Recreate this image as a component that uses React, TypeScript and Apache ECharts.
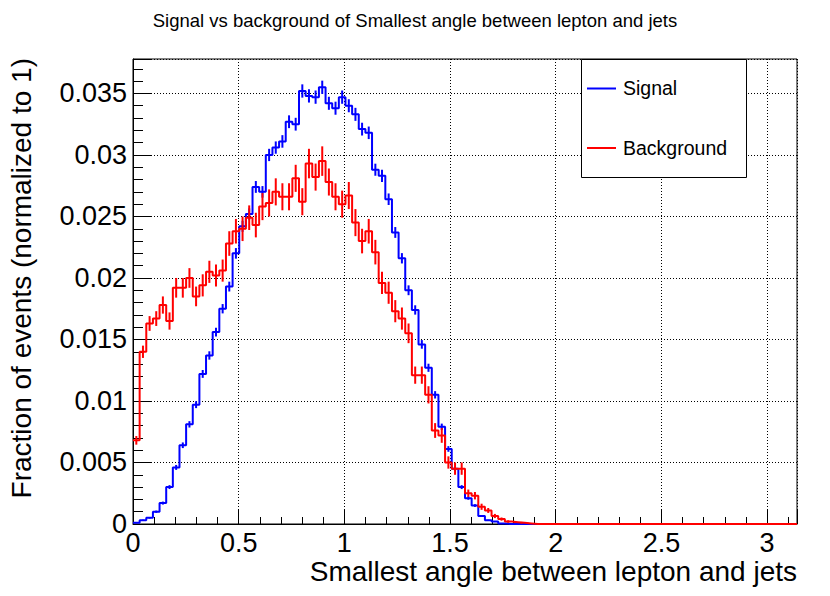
import React, { useEffect, useRef } from "react";
import * as echarts from "echarts";

const X_MAX = Math.PI;
const Y_MAX = 0.0378;

const signal = [
  0.0001, 0.0003, 0.0005, 0.0010, 0.0017, 0.0030, 0.0046, 0.0064, 0.0081, 0.0097,
  0.0122, 0.0137, 0.0156, 0.0175, 0.0193, 0.0220, 0.0242, 0.0252, 0.0274, 0.0270,
  0.0300, 0.0306, 0.0311, 0.0327, 0.0325, 0.0352, 0.0348, 0.0347, 0.0355, 0.0342,
  0.0338, 0.0347, 0.0340, 0.0333, 0.0321, 0.0318, 0.0288, 0.0283, 0.0264, 0.0237,
  0.0216, 0.0190, 0.0174, 0.0146, 0.0127, 0.0105, 0.0079, 0.0061, 0.0045, 0.0030,
  0.0021, 0.0015, 0.00065, 0.0003, 0.0002, 0.00005, 0, 0, 0, 0,
  0, 0, 0, 0, 0, 0, 0, 0, 0, 0,
  0, 0, 0, 0, 0, 0, 0, 0, 0, 0,
  0, 0, 0, 0, 0, 0, 0, 0, 0, 0,
  0, 0, 0, 0, 0, 0, 0, 0, 0, 0,
];

const signalErr = [
  0.00003, 0.00005, 0.00006, 0.00009, 0.00012, 0.00016, 0.0002, 0.00023, 0.00026, 0.00028,
  0.00032, 0.00034, 0.00036, 0.00038, 0.0004, 0.00043, 0.00045, 0.00046, 0.00048, 0.00047,
  0.0005, 0.0005, 0.00051, 0.00052, 0.00052, 0.00054, 0.00054, 0.00054, 0.00054, 0.00053,
  0.00053, 0.00054, 0.00053, 0.00053, 0.00052, 0.00051, 0.00049, 0.00049, 0.00047, 0.00044,
  0.00042, 0.0004, 0.00038, 0.00035, 0.00033, 0.0003, 0.00026, 0.00023, 0.00019, 0.00016,
  0.00013, 0.00011, 0.00007, 0.00005, 0.00004, 0.00002, 0, 0, 0, 0,
  0, 0, 0, 0, 0, 0, 0, 0, 0, 0,
  0, 0, 0, 0, 0, 0, 0, 0, 0, 0,
  0, 0, 0, 0, 0, 0, 0, 0, 0, 0,
  0, 0, 0, 0, 0, 0, 0, 0, 0, 0,
];

const background = [
  0.0068, 0.0140, 0.0163, 0.0167, 0.0178, 0.0165, 0.0192, 0.0192, 0.0200, 0.0185,
  0.0194, 0.0205, 0.0202, 0.0206, 0.0228, 0.0238, 0.0240, 0.0249, 0.0243, 0.0258,
  0.0261, 0.0270, 0.0266, 0.0266, 0.0281, 0.0262, 0.0293, 0.0282, 0.0295, 0.0278,
  0.0266, 0.0260, 0.0267, 0.0245, 0.0230, 0.0238, 0.0221, 0.0196, 0.0188, 0.0173,
  0.0167, 0.0155, 0.0121, 0.0121, 0.0105, 0.0076, 0.0072, 0.0050, 0.0045, 0.0045,
  0.0025, 0.0023, 0.0014, 0.0011, 0.00065, 0.0004, 0.0002, 0.00015, 0.0001, 0.00005,
  0, 0, 0, 0, 0, 0, 0, 0, 0, 0,
  0, 0, 0, 0, 0, 0, 0, 0, 0, 0,
  0, 0, 0, 0, 0, 0, 0, 0, 0, 0,
  0, 0, 0, 0, 0, 0, 0, 0, 0, 0,
];

const backgroundErr = [
  0.00035, 0.0005, 0.0006, 0.0006, 0.0007, 0.0007, 0.0008, 0.0008, 0.0008, 0.0008,
  0.0009, 0.0009, 0.0009, 0.0009, 0.001, 0.001, 0.001, 0.001, 0.001, 0.0011,
  0.0011, 0.0011, 0.0011, 0.0011, 0.0011, 0.0011, 0.0012, 0.0011, 0.0012, 0.0011,
  0.0011, 0.0011, 0.0011, 0.0011, 0.001, 0.001, 0.001, 0.0009, 0.0009, 0.0009,
  0.0009, 0.0008, 0.0007, 0.0007, 0.0007, 0.0006, 0.0006, 0.0005, 0.0005, 0.0005,
  0.0003, 0.0003, 0.00025, 0.0002, 0.00017, 0.00013, 0.0001, 0.00008, 0.00007, 0.00005,
  0, 0, 0, 0, 0, 0, 0, 0, 0, 0,
  0, 0, 0, 0, 0, 0, 0, 0, 0, 0,
  0, 0, 0, 0, 0, 0, 0, 0, 0, 0,
  0, 0, 0, 0, 0, 0, 0, 0, 0, 0,
];

const X_MAJOR = 0.5;
const X_MINOR = 0.1;
const Y_MAJOR = 0.005;
const Y_MINOR = 0.001;

const TITLE = "Signal vs background of Smallest angle between lepton and jets";
const X_TITLE = "Smallest angle between lepton and jets";
const Y_TITLE = "Fraction of events (normalized to 1)";
const LEGEND = ["Signal", "Background"];

const BLUE = "#0000ff";
const RED = "#ff0000";
const FONT = "Liberation Sans, Arial, Helvetica, sans-serif";

function stepPoints(vals: number[]) {
  const w = X_MAX / vals.length;
  const pts: number[][] = [];
  vals.forEach((v, i) => {
    pts.push([i * w, v]);
    pts.push([(i + 1) * w, v]);
  });
  return pts;
}

function errPoints(vals: number[], errs: number[]) {
  const w = X_MAX / vals.length;
  return vals.map((v, i) => [(i + 0.5) * w, v, errs[i]]);
}

function onStep(v: number, step: number) {
  const k = v / step;
  return Math.abs(k - Math.round(k)) < 1e-6;
}

function errSeries(name: string, vals: number[], errs: number[], color: string, z: number) {
  return {
    name,
    type: "custom",
    z,
    xAxisIndex: 0,
    yAxisIndex: 0,
    encode: { x: 0, y: 1 },
    data: errPoints(vals, errs),
    clip: true,
    renderItem: (params: any, api: any) => {
      const x = api.value(0);
      const y = api.value(1);
      const e = api.value(2);
      if (!(e > 0)) return null;
      const p1 = api.coord([x, y - e]);
      const p2 = api.coord([x, y + e]);
      return {
        type: "line",
        shape: { x1: p1[0], y1: p1[1], x2: p2[0], y2: p2[1] },
        style: { stroke: color, lineWidth: 2 },
      };
    },
  };
}

export default function App() {
  const ref = useRef<HTMLDivElement>(null);

  useEffect(() => {
    if (!ref.current) return;
    const chart = echarts.init(ref.current, undefined, { renderer: "svg" });
    const gridDash = { color: "#000", width: 1, type: [1, 2] as any };

    chart.setOption({
      animation: false,
      backgroundColor: "#fff",
      grid: {
        left: 133,
        top: 59,
        right: 33,
        bottom: 72,
        show: true,
        borderColor: "#000",
        borderWidth: 1,
        backgroundColor: "#fff",
      },
      xAxis: [
        {
          type: "value",
          min: 0,
          max: X_MAX,
          interval: X_MAJOR,
          position: "bottom",
          axisLine: { show: true, onZero: false, lineStyle: { color: "#000", width: 1 } },
          axisTick: { show: true, inside: true, length: 14, lineStyle: { color: "#000", width: 1 } },
          axisLabel: {
            show: true,
            margin: 8,
            color: "#000",
            fontSize: 27,
            lineHeight: 21,
            fontFamily: FONT,
            formatter: (v: number) => (onStep(v, X_MAJOR) ? String(+v.toFixed(1)) : ""),
          },
          splitLine: { show: true, lineStyle: gridDash },
        },
        {
          type: "value",
          min: 0,
          max: X_MAX,
          interval: X_MINOR,
          position: "bottom",
          axisLine: { show: false, onZero: false },
          axisTick: { show: true, inside: true, length: 7, lineStyle: { color: "#000", width: 1 } },
          axisLabel: { show: false },
          splitLine: { show: false },
        },
      ],
      yAxis: [
        {
          type: "value",
          min: 0,
          max: Y_MAX,
          interval: Y_MAJOR,
          position: "left",
          axisLine: { show: true, onZero: false, lineStyle: { color: "#000", width: 1 } },
          axisTick: { show: true, inside: true, length: 19, lineStyle: { color: "#000", width: 1 } },
          axisLabel: {
            show: true,
            margin: 6,
            color: "#000",
            fontSize: 27,
            lineHeight: 21,
            fontFamily: FONT,
            formatter: (v: number) => (onStep(v, Y_MAJOR) ? String(+v.toFixed(3)) : ""),
          },
          splitLine: { show: true, lineStyle: gridDash },
        },
        {
          type: "value",
          min: 0,
          max: Y_MAX,
          interval: Y_MINOR,
          position: "left",
          axisLine: { show: false, onZero: false },
          axisTick: { show: true, inside: true, length: 10, lineStyle: { color: "#000", width: 1 } },
          axisLabel: { show: false },
          splitLine: { show: false },
        },
      ],
      series: [
        {
          name: LEGEND[0],
          type: "line",
          z: 3,
          xAxisIndex: 0,
          yAxisIndex: 0,
          data: stepPoints(signal),
          showSymbol: false,
          symbol: "none",
          lineStyle: { color: BLUE, width: 2 },
          clip: true,
        },
        errSeries(LEGEND[0] + " err", signal, signalErr, BLUE, 3),
        {
          name: LEGEND[1],
          type: "line",
          z: 4,
          xAxisIndex: 0,
          yAxisIndex: 0,
          data: stepPoints(background),
          showSymbol: false,
          symbol: "none",
          lineStyle: { color: RED, width: 2 },
          clip: true,
        },
        errSeries(LEGEND[1] + " err", background, backgroundErr, RED, 4),
      ],
      graphic: [
        {
          type: "text",
          z: 100,
          x: 415,
          y: 20,
          style: {
            text: TITLE,
            fontSize: 18.5,
            fontFamily: FONT,
            fill: "#000",
            align: "center",
            verticalAlign: "middle",
          },
        },
        {
          type: "text",
          z: 100,
          x: 797,
          y: 571,
          style: {
            text: X_TITLE,
            fontSize: 28,
            lineHeight: 22,
            fontFamily: FONT,
            fill: "#000",
            align: "right",
            verticalAlign: "middle",
          },
        },
        {
          type: "text",
          z: 100,
          x: 21,
          y: 58,
          rotation: Math.PI / 2,
          style: {
            text: Y_TITLE,
            fontSize: 28,
            fontFamily: FONT,
            fill: "#000",
            align: "right",
            verticalAlign: "middle",
          },
        },
        {
          type: "rect",
          z: 100,
          shape: { x: 581.5, y: 59.5, width: 165, height: 118 },
          style: { fill: "#fff", stroke: "#000", lineWidth: 1 },
        },
        {
          type: "line",
          z: 101,
          shape: { x1: 587, y1: 88.5, x2: 616, y2: 88.5 },
          style: { stroke: BLUE, lineWidth: 2 },
        },
        {
          type: "text",
          z: 101,
          x: 623,
          y: 88,
          style: {
            text: LEGEND[0],
            fontSize: 19.5,
            fontFamily: FONT,
            fill: "#000",
            align: "left",
            verticalAlign: "middle",
          },
        },
        {
          type: "line",
          z: 101,
          shape: { x1: 587, y1: 148, x2: 616, y2: 148 },
          style: { stroke: RED, lineWidth: 2 },
        },
        {
          type: "text",
          z: 101,
          x: 623,
          y: 148,
          style: {
            text: LEGEND[1],
            fontSize: 19.5,
            fontFamily: FONT,
            fill: "#000",
            align: "left",
            verticalAlign: "middle",
          },
        },
      ],
    });

    return () => chart.dispose();
  }, []);

  return (
    <div
      ref={ref}
      style={{ position: "absolute", left: 0, top: 0, width: 830, height: 596, background: "#fff" }}
    />
  );
}
